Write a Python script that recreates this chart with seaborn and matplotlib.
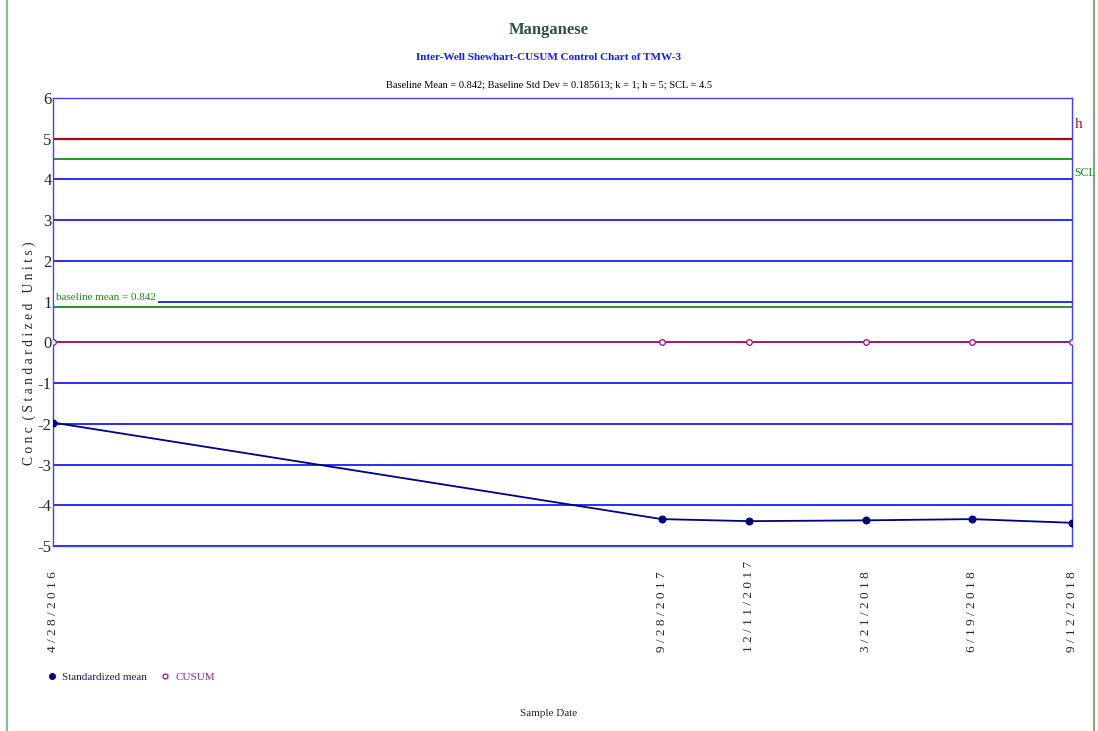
import pandas as pd
import matplotlib.pyplot as plt
import seaborn as sns
from matplotlib.lines import Line2D

# data
dates = ['2016-04-28', '2017-09-28', '2017-12-11', '2018-03-21', '2018-06-19', '2018-09-12']
date_labels = ['4/28/2016', '9/28/2017', '12/11/2017', '3/21/2018', '6/19/2018', '9/12/2018']
std_mean = [-1.97, -4.34, -4.39, -4.37, -4.34, -4.43]
cusum = [0, 0, 0, 0, 0, 0]
h_val = 5
scl_val = 4.5
baseline_line = 0.88

df = pd.DataFrame({'date': pd.to_datetime(dates), 'std_mean': std_mean, 'cusum': cusum})

sns.set_style('white')
plt.rcParams['font.family'] = ['Liberation Serif', 'DejaVu Serif']

fig = plt.figure(figsize=(10.98, 7.31), dpi=100)
ax = fig.add_axes([53/1098, 1 - 546/731, (1072-53)/1098, (546-98)/731])

# gridlines
for yv in range(-5, 7):
    ax.axhline(yv, color='#1a1aff', lw=1.3, zorder=1)
ax.axhline(h_val, color='#a01010', lw=1.6, zorder=2)
ax.axhline(scl_val, color='#1a8a1a', lw=1.3, zorder=2)
ax.axhline(baseline_line, color='#1a8a1a', lw=1.3, zorder=2)

sns.lineplot(data=df, x='date', y='cusum', ax=ax, color='#a0206a', lw=1.3,
             marker='o', markersize=4, markerfacecolor='white',
             markeredgecolor='#a0208a', markeredgewidth=1, zorder=4)
sns.lineplot(data=df, x='date', y='std_mean', ax=ax, color='#00007a', lw=1.3,
             marker='o', markersize=5, markerfacecolor='#00007a',
             markeredgecolor='#00007a', zorder=5)

ax.set_xlim(df['date'].iloc[0], df['date'].iloc[-1])
ax.set_ylim(-5, 6)
ax.set_yticks(range(-5, 7))
ax.set_yticklabels([str(v) for v in range(-5, 7)], fontsize=12)
ax.tick_params(axis='y', length=0, pad=1)

# date labels: bottom-aligned, reading upwards
ax.set_xticks(df['date'])
ax.set_xticklabels([' '.join(s) for s in date_labels], rotation=90, fontsize=9.5, va='bottom')
ax.tick_params(axis='x', length=6, color='#4040ff', direction='out', pad=70)
ax.set_xlabel('')
ax.set_ylabel('C o n c  ( S t a n d a r d i z e d   U n i t s )', fontsize=9.8)
ax.yaxis.set_label_coords(-17/1019, 0.43)

for side in ['left', 'right', 'top', 'bottom']:
    ax.spines[side].set_color('#4040ff')
    ax.spines[side].set_linewidth(1)

ax.text(0.003, 1.0, 'baseline mean = 0.842', transform=ax.get_yaxis_transform(),
        color='#1a8a1a', fontsize=8, va='bottom', ha='left',
        bbox=dict(facecolor='white', edgecolor='none', pad=1.5), zorder=6)
ax.text(1.003, h_val + 0.35, 'h', transform=ax.get_yaxis_transform(),
        color='#a01010', fontsize=11, va='center', ha='left')
ax.text(1.002, scl_val - 0.35, 'SCL', transform=ax.get_yaxis_transform(),
        color='#1a8a1a', fontsize=8.5, va='center', ha='left')

fig.text(0.5, 1 - 30/731, 'Manganese', ha='center', va='center',
         fontsize=12, fontweight='bold', color='#2f4f4f')
fig.text(0.5, 1 - 58/731, 'Inter-Well Shewhart-CUSUM Control Chart of TMW-3', ha='center',
         va='center', fontsize=8, fontweight='bold', color='#1a1aff')
fig.text(0.5, 1 - 85/731, 'Baseline Mean = 0.842; Baseline Std Dev = 0.185613; k = 1; h = 5; SCL = 4.5',
         ha='center', va='center', fontsize=7.5, color='black')
fig.text(0.5, 1 - 714/731, 'Sample Date', ha='center', va='center', fontsize=8)

handles = [Line2D([], [], ls='none', marker='o', markersize=4, color='#00007a'),
           Line2D([], [], ls='none', marker='o', markersize=3.5, markerfacecolor='white',
                  markeredgecolor='#a0208a')]
leg = fig.legend(handles, ['Standardized mean', 'CUSUM'], loc='center left',
                 bbox_to_anchor=(38/1098, 1 - 677/731), ncol=2, frameon=False,
                 fontsize=8, handlelength=0.8, handletextpad=0.5, columnspacing=1.2)
leg.get_texts()[0].set_color('#1a1a8a')
leg.get_texts()[1].set_color('#a0208a')

# green page border
fig.add_artist(Line2D([7/1098, 7/1098], [0, 1], color='#60c060', lw=1.2))
fig.add_artist(Line2D([1094/1098, 1094/1098], [0, 1], color='#60a060', lw=1.2))

fig.savefig('out.png', dpi=100)
